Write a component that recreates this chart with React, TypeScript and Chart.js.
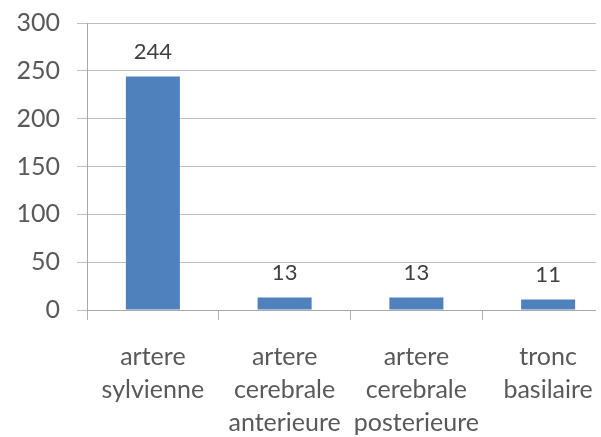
import React, { useEffect, useRef } from "react";
import { Chart, registerables } from "chart.js";

Chart.register(...registerables);

const categories: string[][] = [
  ["artere", "sylvienne"],
  ["artere", "cerebrale", "anterieure"],
  ["artere", "cerebrale", "posterieure"],
  ["tronc", "basilaire"],
];
const values: number[] = [244, 13, 13, 11];
const yMin = 0;
const yMax = 300;
const yStep = 50;

const FONT = "Lato";

const dataLabelPlugin = {
  id: "dataLabels",
  afterDatasetsDraw(chart: any) {
    const ctx = chart.ctx;
    const meta = chart.getDatasetMeta(0);
    ctx.save();
    ctx.font = `22px ${FONT}`;
    ctx.fillStyle = "#404040";
    ctx.textAlign = "center";
    ctx.textBaseline = "middle";
    meta.data.forEach((bar: any, i: number) => {
      ctx.fillText(String(values[i]), bar.x, bar.y - 25);
    });
    ctx.restore();
  },
};

export default function App() {
  const canvasRef = useRef<HTMLCanvasElement | null>(null);

  useEffect(() => {
    const canvas = canvasRef.current;
    if (!canvas) return;
    const chart = new Chart(canvas, {
      type: "bar",
      data: {
        labels: categories,
        datasets: [
          {
            data: values,
            backgroundColor: "#4F81BD",
            borderWidth: 0,
            categoryPercentage: 1,
            barPercentage: 0.41,
          },
        ],
      },
      options: {
        animation: false,
        responsive: false,
        maintainAspectRatio: false,
        layout: { padding: { top: 23, right: 6, bottom: 0, left: 0 } },
        plugins: {
          legend: { display: false },
          tooltip: { enabled: false },
        },
        scales: {
          x: {
            grid: {
              display: true,
              drawOnChartArea: false,
              drawTicks: true,
              tickLength: 10,
              color: "#b0b0b0",
            },
            border: { display: true, color: "#a8a8a8", width: 1 },
            ticks: {
              color: "#595959",
              font: { family: FONT, size: 25, lineHeight: 1.32 },
              padding: 20,
              maxRotation: 0,
              minRotation: 0,
              autoSkip: false,
            },
            afterFit: (scale: any) => {
              scale.height = 127;
              scale.paddingLeft = 0;
              scale.paddingRight = 0;
            },
          },
          y: {
            min: yMin,
            max: yMax,
            ticks: {
              stepSize: yStep,
              color: "#595959",
              font: { family: FONT, size: 25 },
              padding: 17,
            },
            grid: {
              display: true,
              drawOnChartArea: true,
              color: "#c0c0c0",
              lineWidth: 1,
              tickLength: 10,
              drawTicks: true,
            },
            border: { display: true, color: "#a8a8a8", width: 1 },
            afterFit: (scale: any) => {
              scale.width = 87;
              scale.paddingTop = 0;
              scale.paddingBottom = 0;
            },
          },
        },
      },
      plugins: [dataLabelPlugin],
    });
    return () => chart.destroy();
  }, []);

  return (
    <div
      style={{
        position: "fixed",
        left: 0,
        top: 0,
        width: 596,
        height: 437,
        overflow: "hidden",
        background: "#fff",
      }}
    >
      <canvas ref={canvasRef} width={620} height={437} style={{ width: 620, height: 437, display: "block" }} />
    </div>
  );
}
